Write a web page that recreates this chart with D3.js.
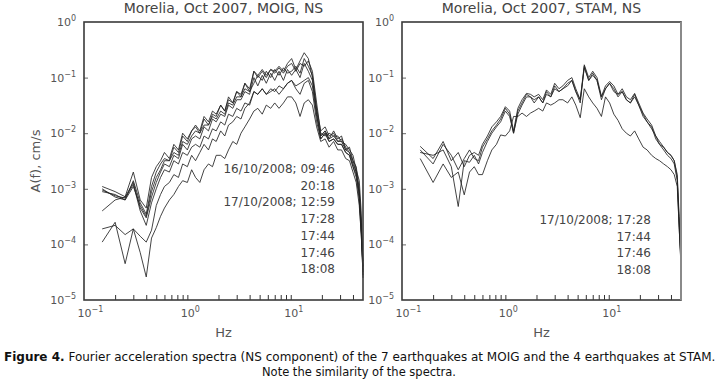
<!DOCTYPE html>
<html><head><meta charset="utf-8">
<script src="https://cdn.jsdelivr.net/npm/d3@7/dist/d3.min.js"></script>
<style>body{margin:0;background:#fff}svg{display:block}</style>
</head><body>
<svg id="c" width="718" height="381"></svg>
<script>
// ---- data ----
const freqHz = [0.15,0.2,0.25,0.3,0.35,0.4,0.45,0.5,0.55,0.6,
 0.67,0.74,0.82,0.9,1.0,1.1,1.2,1.32,1.45,1.6,
 1.75,1.9,2.1,2.3,2.5,2.75,3.0,3.3,3.6,4.0,
 4.4,4.8,5.3,5.8,6.4,7.0,7.7,8.5,9.3,10.2,
 11.2,12.3,13.5,14.8,16.2,17.8,19.5,21.5,23.5,26,
 28.5,31,34,37,40,43,46,48,50];

const moig_0946 = [1.1e-3,8.9e-4,7.2e-4,2.0e-3,6.3e-4,4.5e-4,1.6e-3,2.5e-3,3.2e-3,4.5e-3,
 3.5e-3,6.3e-3,5.0e-3,1.0e-2,7.9e-3,1.1e-2,1.4e-2,1.1e-2,2.0e-2,1.6e-2,
 2.5e-2,2.2e-2,3.2e-2,2.5e-2,4.5e-2,3.5e-2,5.6e-2,5.0e-2,7.9e-2,6.3e-2,
 0.13,0.11,0.14,0.11,0.14,0.13,0.16,0.13,0.18,0.22,
 0.14,0.20,0.28,0.22,0.10,2.5e-2,8.9e-3,1.1e-2,7.9e-3,1.1e-2,
 7.9e-3,8.9e-3,5.0e-3,5.6e-3,3.2e-3,2.5e-3,1.0e-3,2.5e-4,2.5e-5];
const moig_2018 = [8.9e-4,7.9e-4,6.3e-4,1.4e-3,5.6e-4,3.5e-4,1.1e-3,2.0e-3,2.8e-3,3.5e-3,
 3.2e-3,5.6e-3,4.5e-3,8.9e-3,7.1e-3,1.1e-2,1.3e-2,1.0e-2,1.8e-2,1.4e-2,
 2.2e-2,2.0e-2,3.2e-2,2.5e-2,4.0e-2,3.5e-2,5.6e-2,4.5e-2,7.9e-2,5.6e-2,
 0.13,0.10,0.13,0.10,0.14,0.12,0.15,0.12,0.16,0.18,
 0.13,0.18,0.16,0.20,0.13,3.5e-2,1.0e-2,8.9e-3,1.0e-2,8.9e-3,
 8.9e-3,7.1e-3,6.3e-3,5.0e-3,4.0e-3,2.2e-3,1.4e-3,4.0e-4,4.0e-5];
const moig_1259 = [1.0e-3,7.1e-4,6.3e-4,1.1e-3,5.0e-4,3.2e-4,8.9e-4,1.6e-3,2.2e-3,3.2e-3,
 3.2e-3,4.5e-3,4.0e-3,7.1e-3,6.3e-3,8.9e-3,1.1e-2,1.0e-2,1.4e-2,1.4e-2,
 2.0e-2,1.8e-2,2.5e-2,2.2e-2,3.5e-2,3.2e-2,4.5e-2,4.5e-2,6.3e-2,5.6e-2,
 7.9e-2,0.11,8.9e-2,0.13,0.10,0.14,0.11,0.15,0.12,0.13,
 0.16,0.12,0.22,0.16,0.11,2.8e-2,1.1e-2,1.3e-2,8.9e-3,1.0e-2,
 7.1e-3,7.9e-3,5.6e-3,4.5e-3,2.8e-3,2.0e-3,7.9e-4,2.0e-4,3.2e-5];
const moig_1728 = [4.0e-4,6.3e-4,7.1e-4,1.3e-3,4.5e-4,3.0e-4,7.1e-4,1.3e-3,2.0e-3,2.8e-3,
 2.5e-3,4.0e-3,3.5e-3,6.3e-3,5.0e-3,7.9e-3,8.9e-3,7.9e-3,1.3e-2,1.1e-2,
 1.8e-2,1.6e-2,2.2e-2,2.0e-2,3.2e-2,2.8e-2,4.0e-2,4.0e-2,5.6e-2,5.0e-2,
 0.10,7.1e-2,0.11,7.9e-2,0.12,8.9e-2,0.13,8.9e-2,0.14,0.11,
 0.14,0.10,0.18,0.13,8.9e-2,2.2e-2,7.9e-3,1.0e-2,7.1e-3,7.9e-3,
 6.3e-3,6.3e-3,4.5e-3,4.0e-3,2.5e-3,1.6e-3,6.3e-4,1.6e-4,2.8e-5];
const moig_1744 = [9.5e-4,7.5e-4,6.8e-4,1.2e-3,4.0e-4,2.2e-4,5.6e-4,1.0e-3,1.6e-3,2.2e-3,
 2.0e-3,3.2e-3,2.8e-3,4.5e-3,4.0e-3,5.6e-3,6.3e-3,5.6e-3,8.9e-3,7.9e-3,
 1.2e-2,1.1e-2,1.6e-2,1.4e-2,2.2e-2,2.0e-2,2.8e-2,2.5e-2,3.5e-2,3.2e-2,
 5.6e-2,5.0e-2,6.3e-2,5.0e-2,6.3e-2,5.6e-2,7.1e-2,6.3e-2,7.9e-2,8.9e-2,
 7.1e-2,7.9e-2,8.9e-2,0.10,7.1e-2,2.0e-2,8.9e-3,1.1e-2,7.9e-3,8.9e-3,
 7.1e-3,7.1e-3,5.0e-3,4.5e-3,3.2e-3,2.0e-3,8.9e-4,2.2e-4,3.5e-5];
const moig_1746 = [1.9e-4,2.2e-4,1.5e-4,1.9e-4,1.4e-4,1.1e-4,1.8e-4,5.0e-4,7.9e-4,1.1e-3,
 1.3e-3,1.8e-3,1.6e-3,2.8e-3,2.5e-3,4.0e-3,3.2e-3,4.5e-3,6.3e-3,5.0e-3,
 7.9e-3,7.1e-3,1.1e-2,8.9e-3,1.4e-2,1.6e-2,2.0e-2,1.8e-2,2.8e-2,3.5e-2,
 5.6e-2,5.0e-2,6.3e-2,5.0e-2,5.6e-2,6.3e-2,5.0e-2,6.3e-2,7.9e-2,8.9e-2,
 6.3e-2,5.0e-2,7.9e-2,8.9e-2,5.6e-2,1.6e-2,7.9e-3,1.0e-2,7.1e-3,7.9e-3,
 6.3e-3,6.3e-3,4.5e-3,4.0e-3,2.5e-3,1.8e-3,7.9e-4,2.0e-4,5.0e-5];
const moig_1808 = [1.1e-4,2.5e-4,4.5e-5,1.9e-4,7.1e-5,2.6e-5,1.3e-4,2.0e-4,3.2e-4,4.5e-4,
 6.3e-4,7.9e-4,1.1e-3,1.4e-3,1.3e-3,2.2e-3,1.6e-3,1.3e-3,2.2e-3,2.8e-3,
 2.5e-3,4.0e-3,4.0e-3,3.5e-3,5.0e-3,7.1e-3,6.3e-3,1.0e-2,1.3e-2,1.8e-2,
 2.5e-2,2.8e-2,2.2e-2,3.2e-2,2.8e-2,3.5e-2,2.8e-2,3.5e-2,4.5e-2,4.5e-2,
 3.5e-2,2.0e-2,3.5e-2,4.0e-2,3.2e-2,1.3e-2,7.1e-3,7.9e-3,5.6e-3,7.1e-3,
 5.0e-3,5.0e-3,3.5e-3,3.2e-3,2.0e-3,1.3e-3,5.0e-4,1.6e-4,4.0e-5];

const stam_1728 = [5.8e-3,3.5e-3,7.1e-3,3.2e-3,4.5e-3,2.5e-3,4.0e-3,4.5e-3,4.0e-3,6.3e-3,
 8.9e-3,1.3e-2,1.6e-2,2.0e-2,3.0e-2,2.5e-2,1.1e-2,2.8e-2,4.0e-2,5.2e-2,
 5.0e-2,4.5e-2,5.0e-2,4.0e-2,6.0e-2,5.0e-2,7.9e-2,6.3e-2,7.1e-2,8.9e-2,
 0.10,6.3e-2,4.0e-2,0.17,0.10,0.13,0.10,4.6e-2,7.1e-2,8.5e-2,
 7.1e-2,5.0e-2,6.3e-2,4.5e-2,4.0e-2,5.2e-2,3.5e-2,2.3e-2,1.8e-2,1.4e-2,
 8.9e-3,7.1e-3,5.6e-3,4.5e-3,4.0e-3,3.2e-3,1.6e-3,2.5e-4,5.0e-5];
const stam_1744 = [5.0e-3,2.8e-3,6.3e-3,4.0e-3,2.2e-3,3.5e-3,5.0e-3,3.5e-3,3.2e-3,5.6e-3,
 7.9e-3,1.1e-2,1.4e-2,1.8e-2,2.8e-2,2.2e-2,1.0e-2,2.5e-2,3.5e-2,5.0e-2,
 4.5e-2,4.0e-2,4.5e-2,3.5e-2,5.6e-2,4.5e-2,7.1e-2,5.6e-2,6.3e-2,7.9e-2,
 8.9e-2,5.6e-2,3.5e-2,0.16,8.9e-2,0.12,8.9e-2,4.0e-2,6.3e-2,7.9e-2,
 6.3e-2,4.5e-2,5.6e-2,4.0e-2,3.5e-2,5.0e-2,3.2e-2,2.0e-2,1.6e-2,1.3e-2,
 7.9e-3,6.3e-3,5.0e-3,4.0e-3,3.5e-3,2.8e-3,1.4e-3,2.0e-4,4.5e-5];
const stam_1746 = [4.5e-3,4.0e-3,5.0e-3,2.5e-3,4.8e-4,3.2e-3,3.0e-3,4.0e-3,2.8e-3,4.5e-3,
 7.1e-3,1.0e-2,1.3e-2,1.6e-2,2.5e-2,2.0e-2,1.0e-2,2.2e-2,3.2e-2,4.5e-2,
 4.5e-2,3.5e-2,4.5e-2,3.5e-2,5.0e-2,4.5e-2,6.3e-2,5.6e-2,6.3e-2,7.1e-2,
 8.9e-2,5.6e-2,4.0e-2,0.15,8.9e-2,0.11,8.9e-2,4.5e-2,6.3e-2,7.9e-2,
 5.6e-2,5.0e-2,5.6e-2,4.0e-2,3.5e-2,4.5e-2,3.2e-2,2.2e-2,1.6e-2,1.2e-2,
 8.9e-3,6.3e-3,5.6e-3,4.5e-3,4.0e-3,3.2e-3,1.8e-3,3.2e-4,5.0e-5];
const stam_1808 = [3.5e-3,1.3e-3,2.8e-3,1.6e-3,2.0e-3,7.8e-4,2.0e-3,2.5e-3,1.8e-3,1.8e-3,
 3.2e-3,5.0e-3,6.3e-3,9.3e-3,8.9e-3,1.1e-2,2.0e-2,2.0e-2,2.3e-2,2.0e-2,
 2.3e-2,2.5e-2,2.8e-2,2.5e-2,3.5e-2,3.2e-2,3.5e-2,4.0e-2,4.0e-2,3.5e-2,
 4.5e-2,3.2e-2,1.9e-2,6.3e-2,4.5e-2,3.5e-2,2.8e-2,2.0e-2,4.5e-2,3.5e-2,
 2.2e-2,1.7e-2,1.2e-2,1.0e-2,8.9e-3,1.1e-2,7.9e-3,5.6e-3,5.0e-3,4.0e-3,
 3.5e-3,3.2e-3,2.8e-3,2.5e-3,2.2e-3,1.8e-3,1.1e-3,2.0e-4,4.0e-5];

const moigLabels = ["16/10/2008; 09:46","20:18","17/10/2008; 12:59","17:28","17:44","17:46","18:08"];
const stamLabels = ["17/10/2008; 17:28","17:44","17:46","18:08"];
const xTickExps = [-1,0,1];
const yTickExps = [0,-1,-2,-3,-4,-5];
const titles = ["Morelia, Oct 2007, MOIG, NS","Morelia, Oct 2007, STAM, NS"];
const xAxisTitle = "Hz";
const yAxisTitle = "A(f), cm/s";
const captionBold = "Figure 4.";
const captionRest = " Fourier acceleration spectra (NS component) of the 7 earthquakes at MOIG and the 4 earthquakes at STAM.";
const captionLine2 = "Note the similarity of the spectra.";

// ---- drawing ----
const svg = d3.select("#c");
const FONT = "DejaVu Sans, Verdana, sans-serif";
const yTop = 22, yBot = 300;
const panels = [
  {x0:84, x1:363, title:titles[0], series:[moig_0946,moig_2018,moig_1259,moig_1728,moig_1744,moig_1746,moig_1808], labels:moigLabels, legX:335, legY:173, ylabel:true},
  {x0:402, x1:681, title:titles[1], series:[stam_1728,stam_1744,stam_1746,stam_1808], labels:stamLabels, legX:651, legY:224, ylabel:false}
];
const y = d3.scaleLog().domain([1e-5,1]).range([yBot,yTop]);
const minor = [];
[0.1,1,10].forEach(d=>{for(let k=1;k<=9;k++){const v=d*k; if(v>0.1 && v<50) minor.push(v);} });

panels.forEach((p,pi)=>{
  const x = d3.scaleLog().domain([0.1,50]).range([p.x0,p.x1]);
  const g = svg.append("g");
  const line = d3.line().x(d=>x(d[0])).y(d=>y(d[1]));
  p.series.forEach(s=>{
    g.append("path").datum(freqHz.map((f,i)=>[f,s[i]]))
      .attr("d",line).attr("fill","none").attr("stroke","#222")
      .attr("stroke-width",0.85).attr("stroke-linejoin","round");
  });
  const xa = d3.axisBottom(x).tickValues(minor).tickSize(-5).tickFormat("");
  const gx = g.append("g").attr("transform",`translate(0,${yBot})`).call(xa);
  gx.select(".domain").remove();
  gx.selectAll(".tick line").attr("stroke","#333").attr("stroke-width",1);
  const ya = d3.axisLeft(y).tickValues([1e-1,1e-2,1e-3,1e-4]).tickSize(-4).tickFormat("");
  const gy = g.append("g").attr("transform",`translate(${p.x0},0)`).call(ya);
  gy.select(".domain").remove();
  gy.selectAll(".tick line").attr("stroke","#666").attr("stroke-width",1);
  g.append("rect").attr("x",p.x0).attr("y",yTop).attr("width",p.x1-p.x0).attr("height",yBot-yTop)
    .attr("fill","none").attr("stroke","#3a3a3a").attr("stroke-width",1.6);
  if(pi===1){
    g.append("line").attr("x1",p.x1).attr("x2",p.x1).attr("y1",yTop).attr("y2",yBot)
      .attr("stroke","#8a8a8a").attr("stroke-width",2);
  }
  xTickExps.forEach(e=>{
    const t = g.append("text").attr("x",x(Math.pow(10,e))-6.5).attr("y",317)
      .attr("font-family",FONT).attr("font-size",11).attr("fill","#555");
    t.append("tspan").text("10");
    t.append("tspan").attr("dy",-5).attr("font-size",8).text(e<0?"\u2212"+(-e):String(e));
  });
  yTickExps.forEach(e=>{
    const t = g.append("text").attr("x",p.x0-8).attr("y",y(Math.pow(10,e))+4)
      .attr("text-anchor","end").attr("font-family",FONT).attr("font-size",11).attr("fill","#555");
    t.append("tspan").text("10");
    t.append("tspan").attr("dy",-5).attr("font-size",8).text(e<0?"\u2212"+(-e):String(e));
  });
  g.append("text").attr("x",(p.x0+p.x1)/2).attr("y",13).attr("text-anchor","middle")
    .attr("font-family",FONT).attr("font-size",14).attr("fill","#444").text(p.title);
  g.append("text").attr("x",(p.x0+p.x1)/2).attr("y",337).attr("text-anchor","middle")
    .attr("font-family",FONT).attr("font-size",13).attr("fill","#555").text(xAxisTitle);
  if(p.ylabel){
    g.append("text").attr("transform",`translate(40,${(yTop+yBot)/2}) rotate(-90)`).attr("text-anchor","middle")
      .attr("font-family",FONT).attr("font-size",13).attr("fill","#555").text(yAxisTitle);
  }
  p.labels.forEach((l,i)=>{
    g.append("text").attr("x",p.legX).attr("y",p.legY+i*16.7).attr("text-anchor","end")
      .attr("font-family",FONT).attr("font-size",12).attr("fill","#444").text(l);
  });
});

const cap = svg.append("text").attr("x",4).attr("y",361).attr("font-family",FONT).attr("font-size",12).attr("fill","#111");
cap.append("tspan").attr("font-weight","bold").text(captionBold);
cap.append("tspan").text(captionRest);
const w = cap.node().getComputedTextLength();
if (Math.abs(w - 711) > 3) cap.attr("textLength",711).attr("lengthAdjust","spacingAndGlyphs");
const cap2 = svg.append("text").attr("x",359).attr("y",376).attr("text-anchor","middle")
  .attr("font-family",FONT).attr("font-size",12).attr("fill","#111").text(captionLine2);
const w2 = cap2.node().getComputedTextLength();
if (w2 > 195) cap2.attr("textLength",194).attr("lengthAdjust","spacingAndGlyphs");
</script>
</body></html>
